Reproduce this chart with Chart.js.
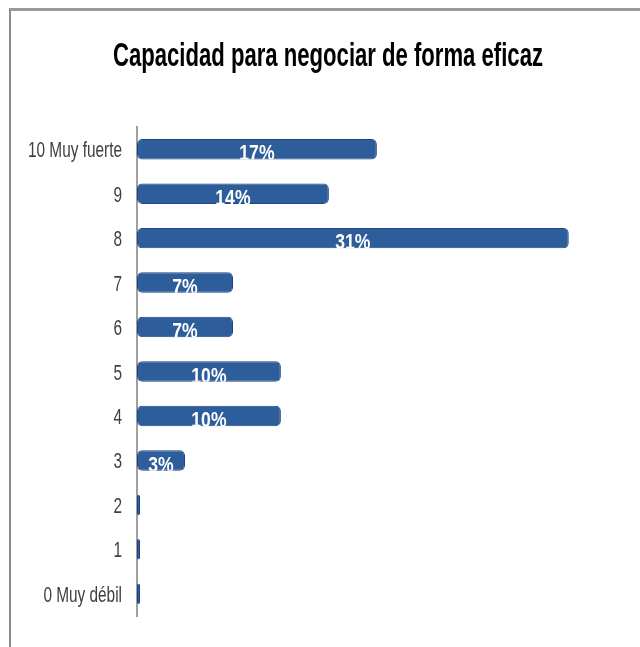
<!DOCTYPE html>
<html>
<head>
<meta charset="utf-8">
<script src="https://cdn.jsdelivr.net/npm/chart.js@4/dist/chart.umd.min.js"></script>
<style>
  body { margin: 0; background: #fff; }
  #wrap { position: relative; width: 640px; height: 647px; }
  #frame { position: absolute; left: 9px; top: 8px; right: 0; bottom: 0;
           border-top: 3px solid #9a9a9a; border-left: 2px solid #8c8c8c; pointer-events: none; }
  canvas { position: absolute; left: 0; top: 0; }
</style>
</head>
<body>
<div id="wrap">
  <canvas id="myChart" width="640" height="647"></canvas>
  <div id="frame"></div>
</div>
<script>
// categorias (de arriba hacia abajo)
const categories = ['10 Muy fuerte', '9', '8', '7', '6', '5', '4', '3', '2', '1', '0 Muy débil'];
// porcentaje de respuestas
const percents = [17.24, 13.79, 31.03, 6.90, 6.90, 10.34, 10.34, 3.45, 0, 0, 0];
const titleText = 'Capacidad para negociar de forma eficaz';
const xMax = 35;

const FONT = '"Liberation Sans", Arial, sans-serif';

// el original usa letra estrecha: se dibuja comprimida en horizontal
function narrowText(ctx, text, x, y, sx) {
  ctx.save();
  ctx.translate(x, y);
  ctx.scale(sx, 1);
  ctx.fillText(text, 0, 0);
  ctx.restore();
}

const narrowLabels = {
  id: 'narrowLabels',
  afterDraw(chart) {
    const ctx = chart.ctx;
    const yScale = chart.scales.y;
    ctx.save();

    // titulo
    ctx.fillStyle = '#000';
    ctx.font = 'bold 34px ' + FONT;
    ctx.textAlign = 'center';
    ctx.textBaseline = 'middle';
    const tw = ctx.measureText(titleText).width;
    narrowText(ctx, titleText, 328, 57, 430 / tw);

    // etiquetas del eje y
    ctx.fillStyle = '#404040';
    ctx.font = '22px ' + FONT;
    ctx.textAlign = 'right';
    const lw = ctx.measureText(categories[0]).width;
    const sxl = 94 / lw;
    categories.forEach((c, i) => {
      narrowText(ctx, c, yScale.right - 15, yScale.getPixelForTick(i) + 2, sxl);
    });

    // porcentajes dentro de las barras (cortados por abajo como en el original)
    const meta = chart.getDatasetMeta(0);
    ctx.fillStyle = '#ffffff';
    ctx.font = 'bold 22px ' + FONT;
    ctx.textAlign = 'center';
    ctx.textBaseline = 'alphabetic';
    meta.data.forEach((bar, i) => {
      if (!percents[i]) return;
      const cx = (bar.x + bar.base) / 2;
      const h = bar.height;
      ctx.save();
      ctx.beginPath();
      ctx.rect(bar.base, bar.y - h / 2, bar.x - bar.base, h);
      ctx.clip();
      narrowText(ctx, Math.round(percents[i]) + '%', cx, bar.y + h / 2 + 1, 0.8);
      ctx.restore();
    });
    ctx.restore();
  }
};

const context = document.getElementById('myChart').getContext('2d');
const myChart = new Chart(context, {
  type: 'bar',
  data: {
    labels: categories,
    datasets: [{
      data: percents,
      backgroundColor: '#2e5d9c',
      borderColor: '#1d4680',
      borderWidth: 1,
      borderRadius: 5,
      borderSkipped: false,
      minBarLength: 3,
      barPercentage: 0.46,
      categoryPercentage: 1.0
    }]
  },
  options: {
    indexAxis: 'y',
    responsive: false,
    animation: false,
    layout: { padding: { left: 0, right: 16, top: 127, bottom: 31 } },
    plugins: {
      legend: { display: false },
      tooltip: { enabled: false },
      title: { display: false }
    },
    scales: {
      x: { display: false, min: 0, max: xMax },
      y: {
        grid: { display: false },
        border: { display: true, color: '#a0a0a0', width: 2 },
        afterFit(scale) { scale.width = 137; },
        ticks: { display: false }
      }
    }
  },
  plugins: [narrowLabels]
});
</script>
</body>
</html>
